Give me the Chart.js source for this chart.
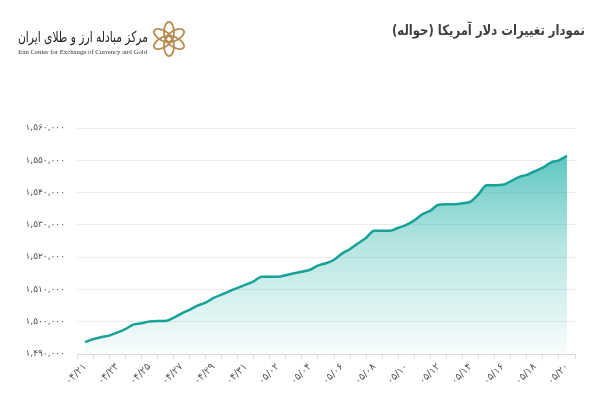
<!DOCTYPE html>
<html>
<head>
<meta charset="utf-8">
<script src="https://cdn.jsdelivr.net/npm/chart.js@4"></script>
<style>
  html, body { margin: 0; padding: 0; background: #fff; }
  #wrap { position: relative; width: 600px; height: 403px; overflow: hidden; }
  #chart { position: absolute; left: 0; top: 0; }
  .fit { position: absolute; white-space: nowrap; transform-origin: 0 50%; line-height: 1; }
  #title { font: bold 14px "DejaVu Sans", sans-serif; color: #3f3f3f; }
  #logoFa { font: 15px "DejaVu Sans", sans-serif; color: #222; }
  #logoEn { font: 7px "Liberation Serif", serif; color: #333; }
  #emblem { position: absolute; left: 151px; top: 21px; }
</style>
</head>
<body>
<div id="wrap">
  <canvas id="chart" width="600" height="403"></canvas>
  <span class="fit" id="title" dir="rtl" data-x="392" data-y="30" data-w="193">نمودار تغییرات دلار آمریکا (حواله)</span>
  <span class="fit" id="logoFa" dir="rtl" data-x="18" data-y="37" data-w="130">مرکز مبادله ارز و طلای ایران</span>
  <span class="fit" id="logoEn" data-x="18" data-y="52" data-w="129">Iran Center for Exchange of Currency and Gold</span>
  <svg id="emblem" width="36" height="36" viewBox="-18 -18 36 36">
    <g fill="none" stroke="#b58d52" stroke-width="1.8">
      <ellipse cx="0" cy="-7" rx="5" ry="10" transform="rotate(0)"/>
      <ellipse cx="0" cy="-7" rx="5" ry="10" transform="rotate(60)"/>
      <ellipse cx="0" cy="-7" rx="5" ry="10" transform="rotate(120)"/>
      <ellipse cx="0" cy="-7" rx="5" ry="10" transform="rotate(180)"/>
      <ellipse cx="0" cy="-7" rx="5" ry="10" transform="rotate(240)"/>
      <ellipse cx="0" cy="-7" rx="5" ry="10" transform="rotate(300)"/>
    </g>
  </svg>
</div>
<script>
// ── USD (havale) rate chart ──

// days shown on the axis (Persian calendar, month/day)
const days = ['04/21','04/22','04/23','04/24','04/25','04/26','04/27','04/28','04/29','04/30','04/31',
              '05/01','05/02','05/03','05/04','05/05','05/06','05/07','05/08','05/09','05/10',
              '05/11','05/12','05/13','05/14','05/15','05/16','05/17','05/18','05/19','05/20'];

// two readings per day
const rates = [1493700,1494600,1495200,1495700,1496600,1497700,1499100,1499500,1500100,1500200,
               1500200,1501200,1502500,1503700,1505000,1505900,1507400,1508400,1509500,1510500,
               1511500,1512500,1513900,1513900,1513900,1514400,1515000,1515500,1516100,1517400,
               1518100,1519200,1521100,1522500,1524300,1526000,1528200,1528200,1528200,1529100,
               1530000,1531400,1533300,1534400,1536200,1536400,1536400,1536700,1537200,1539500,
               1542300,1542300,1542400,1543500,1544800,1545500,1546600,1547700,1549300,1550000,
               1551400];

// y axis ticks
const yMin = 1490000, yMax = 1560000, yStep = 10000;

const faDigits = '۰۱۲۳۴۵۶۷۸۹';
const fa = s => String(s).replace(/\d/g, d => faDigits[d]);

// fit header texts to their widths
document.querySelectorAll('.fit').forEach(el => {
  const w = el.getBoundingClientRect().width;
  const h = el.getBoundingClientRect().height;
  el.style.left = el.dataset.x + 'px';
  el.style.top = (el.dataset.y - h / 2) + 'px';
  el.style.transform = 'scaleX(' + (el.dataset.w / w) + ')';
});

const points = rates.map((v, i) => ({ x: i / 2, y: v }));

new Chart(document.getElementById('chart').getContext('2d'), {
  type: 'line',
  data: {
    labels: days,
    datasets: [{
      data: points,
      xAxisID: 'x2',
      borderColor: '#18a196', borderWidth: 2.5,
      cubicInterpolationMode: 'monotone',
      pointRadius: 0,
      fill: 'start',
      backgroundColor: ctx => {
        const area = ctx.chart.chartArea;
        if (!area) return 'rgba(40,180,172,0.3)';
        const g = ctx.chart.ctx.createLinearGradient(0, area.top, 0, area.bottom);
        g.addColorStop(0, 'rgba(36,178,170,0.85)');
        g.addColorStop(0.5, 'rgba(36,178,170,0.35)');
        g.addColorStop(1, 'rgba(36,178,170,0.03)');
        return g;
      }
    }]
  },
  options: {
    responsive: false,
    animation: false,
    layout: { padding: { top: 128, right: 25, left: 0, bottom: 0 } },
    plugins: { legend: { display: false }, tooltip: { enabled: false } },
    scales: {
      x: {
        type: 'category',
        offset: true,
        grid: { offset: true, drawOnChartArea: false, tickLength: 5, color: '#dcdcdc' },
        border: { color: '#dcdcdc' },
        ticks: {
          autoSkip: false, minRotation: 45, maxRotation: 45, padding: 2,
          font: { family: 'DejaVu Sans', size: 10 }, color: '#555',
          callback: function (val, i) { return i % 2 === 0 ? fa(this.getLabelForValue(val)) : ''; }
        },
        afterFit: s => { s.height = 49; }
      },
      x2: { type: 'linear', display: false, min: -0.5, max: days.length - 0.5 },
      y: {
        min: yMin, max: yMax,
        grid: { color: '#ececec', drawTicks: false },
        border: { display: false },
        ticks: {
          stepSize: yStep, padding: 12,
          font: { family: 'DejaVu Sans', size: 9 }, color: '#555',
          callback: v => fa(v.toLocaleString('en-US'))
        },
        afterFit: s => { s.width = 77; }
      }
    }
  }
});
</script>
</body>
</html>
